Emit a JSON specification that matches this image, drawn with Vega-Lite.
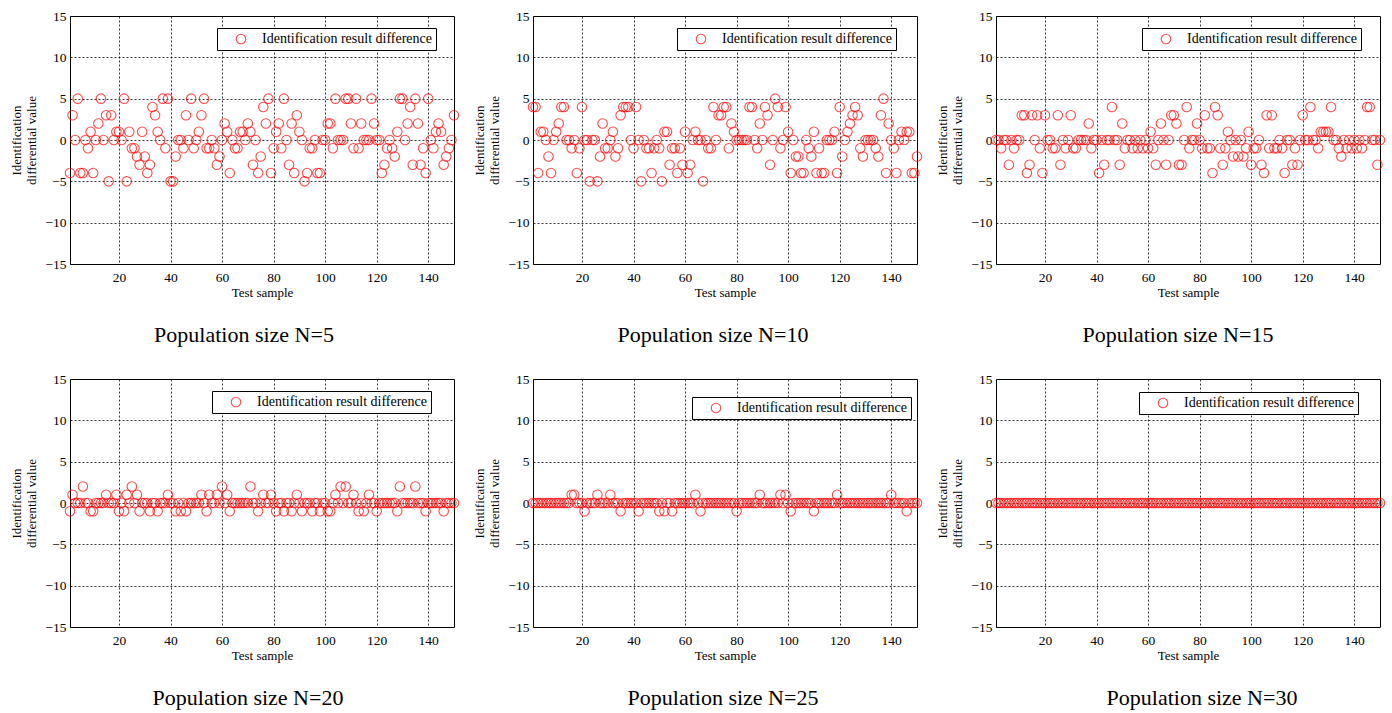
{
"$schema": "https://vega.github.io/schema/vega-lite/v6.json",
"padding": {"left": 10, "top": 8, "right": 5, "bottom": 5},
"background": "white",
"datasets": {
"p1": [{"s":1,"v":-4},{"s":2,"v":3},{"s":3,"v":0},{"s":4,"v":5},{"s":5,"v":-4},{"s":6,"v":-4},{"s":7,"v":0},{"s":8,"v":-1},{"s":9,"v":1},{"s":10,"v":-4},
{"s":11,"v":0},{"s":12,"v":2},{"s":13,"v":5},{"s":14,"v":0},{"s":15,"v":3},{"s":16,"v":-5},{"s":17,"v":3},{"s":18,"v":0},{"s":19,"v":1},{"s":20,"v":1},
{"s":21,"v":0},{"s":22,"v":5},{"s":23,"v":-5},{"s":24,"v":1},{"s":25,"v":-1},{"s":26,"v":-1},{"s":27,"v":-2},{"s":28,"v":-3},{"s":29,"v":1},{"s":30,"v":-2},
{"s":31,"v":-4},{"s":32,"v":-3},{"s":33,"v":4},{"s":34,"v":3},{"s":35,"v":1},{"s":36,"v":0},{"s":37,"v":5},{"s":38,"v":-1},{"s":39,"v":5},{"s":40,"v":-5},
{"s":41,"v":-5},{"s":42,"v":-2},{"s":43,"v":0},{"s":44,"v":0},{"s":45,"v":-1},{"s":46,"v":3},{"s":47,"v":0},{"s":48,"v":5},{"s":49,"v":-1},{"s":50,"v":0},
{"s":51,"v":1},{"s":52,"v":3},{"s":53,"v":5},{"s":54,"v":-1},{"s":55,"v":-1},{"s":56,"v":0},{"s":57,"v":-1},{"s":58,"v":-3},{"s":59,"v":-2},{"s":60,"v":0},
{"s":61,"v":2},{"s":62,"v":1},{"s":63,"v":-4},{"s":64,"v":0},{"s":65,"v":-1},{"s":66,"v":-1},{"s":67,"v":1},{"s":68,"v":1},{"s":69,"v":0},{"s":70,"v":2},
{"s":71,"v":1},{"s":72,"v":-3},{"s":73,"v":0},{"s":74,"v":-4},{"s":75,"v":-2},{"s":76,"v":4},{"s":77,"v":2},{"s":78,"v":5},{"s":79,"v":-4},{"s":80,"v":-1},
{"s":81,"v":1},{"s":82,"v":2},{"s":83,"v":-1},{"s":84,"v":5},{"s":85,"v":0},{"s":86,"v":-3},{"s":87,"v":2},{"s":88,"v":-4},{"s":89,"v":3},{"s":90,"v":1},
{"s":91,"v":0},{"s":92,"v":-5},{"s":93,"v":-4},{"s":94,"v":-1},{"s":95,"v":-1},{"s":96,"v":0},{"s":97,"v":-4},{"s":98,"v":-4},{"s":99,"v":0},{"s":100,"v":0},
{"s":101,"v":2},{"s":102,"v":2},{"s":103,"v":-1},{"s":104,"v":5},{"s":105,"v":0},{"s":106,"v":0},{"s":107,"v":0},{"s":108,"v":5},{"s":109,"v":5},{"s":110,"v":2},
{"s":111,"v":-1},{"s":112,"v":5},{"s":113,"v":-1},{"s":114,"v":2},{"s":115,"v":0},{"s":116,"v":0},{"s":117,"v":0},{"s":118,"v":5},{"s":119,"v":2},{"s":120,"v":0},
{"s":121,"v":0},{"s":122,"v":-4},{"s":123,"v":-3},{"s":124,"v":-1},{"s":125,"v":0},{"s":126,"v":-1},{"s":127,"v":-2},{"s":128,"v":1},{"s":129,"v":5},{"s":130,"v":5},
{"s":131,"v":0},{"s":132,"v":2},{"s":133,"v":4},{"s":134,"v":-3},{"s":135,"v":5},{"s":136,"v":2},{"s":137,"v":-3},{"s":138,"v":-1},{"s":139,"v":-4},{"s":140,"v":5},
{"s":141,"v":0},{"s":142,"v":-1},{"s":143,"v":1},{"s":144,"v":2},{"s":145,"v":1},{"s":146,"v":-3},{"s":147,"v":-2},{"s":148,"v":-1},{"s":149,"v":0},{"s":150,"v":3}],
"p2": [{"s":1,"v":4},{"s":2,"v":4},{"s":3,"v":-4},{"s":4,"v":1},{"s":5,"v":1},{"s":6,"v":0},{"s":7,"v":-2},{"s":8,"v":-4},{"s":9,"v":0},{"s":10,"v":1},
{"s":11,"v":2},{"s":12,"v":4},{"s":13,"v":4},{"s":14,"v":0},{"s":15,"v":0},{"s":16,"v":-1},{"s":17,"v":0},{"s":18,"v":-4},{"s":19,"v":-1},{"s":20,"v":4},
{"s":21,"v":0},{"s":22,"v":0},{"s":23,"v":-5},{"s":24,"v":0},{"s":25,"v":0},{"s":26,"v":-5},{"s":27,"v":-2},{"s":28,"v":2},{"s":29,"v":-1},{"s":30,"v":-1},
{"s":31,"v":0},{"s":32,"v":1},{"s":33,"v":-2},{"s":34,"v":-1},{"s":35,"v":3},{"s":36,"v":4},{"s":37,"v":4},{"s":38,"v":4},{"s":39,"v":0},{"s":40,"v":-1},
{"s":41,"v":4},{"s":42,"v":0},{"s":43,"v":-5},{"s":44,"v":0},{"s":45,"v":-1},{"s":46,"v":-1},{"s":47,"v":-4},{"s":48,"v":-1},{"s":49,"v":0},{"s":50,"v":-1},
{"s":51,"v":-5},{"s":52,"v":1},{"s":53,"v":1},{"s":54,"v":-3},{"s":55,"v":-1},{"s":56,"v":-1},{"s":57,"v":-4},{"s":58,"v":-1},{"s":59,"v":-3},{"s":60,"v":1},
{"s":61,"v":-4},{"s":62,"v":-3},{"s":63,"v":0},{"s":64,"v":1},{"s":65,"v":0},{"s":66,"v":0},{"s":67,"v":-5},{"s":68,"v":0},{"s":69,"v":-1},{"s":70,"v":-1},
{"s":71,"v":4},{"s":72,"v":0},{"s":73,"v":3},{"s":74,"v":3},{"s":75,"v":4},{"s":76,"v":4},{"s":77,"v":-1},{"s":78,"v":2},{"s":79,"v":1},{"s":80,"v":0},
{"s":81,"v":0},{"s":82,"v":0},{"s":83,"v":0},{"s":84,"v":0},{"s":85,"v":4},{"s":86,"v":4},{"s":87,"v":0},{"s":88,"v":-1},{"s":89,"v":2},{"s":90,"v":0},
{"s":91,"v":4},{"s":92,"v":3},{"s":93,"v":-3},{"s":94,"v":0},{"s":95,"v":5},{"s":96,"v":4},{"s":97,"v":-1},{"s":98,"v":0},{"s":99,"v":4},{"s":100,"v":1},
{"s":101,"v":-4},{"s":102,"v":0},{"s":103,"v":-2},{"s":104,"v":-2},{"s":105,"v":-4},{"s":106,"v":-4},{"s":107,"v":0},{"s":108,"v":-1},{"s":109,"v":-2},{"s":110,"v":1},
{"s":111,"v":-4},{"s":112,"v":-1},{"s":113,"v":-4},{"s":114,"v":-4},{"s":115,"v":0},{"s":116,"v":0},{"s":117,"v":0},{"s":118,"v":1},{"s":119,"v":-4},{"s":120,"v":4},
{"s":121,"v":-2},{"s":122,"v":0},{"s":123,"v":1},{"s":124,"v":2},{"s":125,"v":3},{"s":126,"v":4},{"s":127,"v":3},{"s":128,"v":-1},{"s":129,"v":-2},{"s":130,"v":0},
{"s":131,"v":0},{"s":132,"v":0},{"s":133,"v":0},{"s":134,"v":-1},{"s":135,"v":-2},{"s":136,"v":3},{"s":137,"v":5},{"s":138,"v":-4},{"s":139,"v":2},{"s":140,"v":0},
{"s":141,"v":-1},{"s":142,"v":-4},{"s":143,"v":0},{"s":144,"v":1},{"s":145,"v":0},{"s":146,"v":1},{"s":147,"v":1},{"s":148,"v":-4},{"s":149,"v":-4},{"s":150,"v":-2}],
"p3": [{"s":1,"v":0},{"s":2,"v":0},{"s":3,"v":-1},{"s":4,"v":0},{"s":5,"v":0},{"s":6,"v":-3},{"s":7,"v":0},{"s":8,"v":-1},{"s":9,"v":0},{"s":10,"v":0},
{"s":11,"v":3},{"s":12,"v":3},{"s":13,"v":-4},{"s":14,"v":-3},{"s":15,"v":3},{"s":16,"v":0},{"s":17,"v":3},{"s":18,"v":-1},{"s":19,"v":-4},{"s":20,"v":3},
{"s":21,"v":0},{"s":22,"v":0},{"s":23,"v":-1},{"s":24,"v":-1},{"s":25,"v":3},{"s":26,"v":-3},{"s":27,"v":0},{"s":28,"v":-1},{"s":29,"v":0},{"s":30,"v":3},
{"s":31,"v":-1},{"s":32,"v":-1},{"s":33,"v":0},{"s":34,"v":0},{"s":35,"v":0},{"s":36,"v":0},{"s":37,"v":2},{"s":38,"v":-1},{"s":39,"v":0},{"s":40,"v":0},
{"s":41,"v":-4},{"s":42,"v":0},{"s":43,"v":-3},{"s":44,"v":0},{"s":45,"v":0},{"s":46,"v":4},{"s":47,"v":0},{"s":48,"v":0},{"s":49,"v":-3},{"s":50,"v":2},
{"s":51,"v":-1},{"s":52,"v":0},{"s":53,"v":0},{"s":54,"v":-1},{"s":55,"v":0},{"s":56,"v":-1},{"s":57,"v":0},{"s":58,"v":-1},{"s":59,"v":0},{"s":60,"v":-1},
{"s":61,"v":1},{"s":62,"v":-1},{"s":63,"v":-3},{"s":64,"v":0},{"s":65,"v":2},{"s":66,"v":0},{"s":67,"v":-3},{"s":68,"v":0},{"s":69,"v":3},{"s":70,"v":3},
{"s":71,"v":2},{"s":72,"v":-3},{"s":73,"v":-3},{"s":74,"v":0},{"s":75,"v":4},{"s":76,"v":-1},{"s":77,"v":0},{"s":78,"v":0},{"s":79,"v":2},{"s":80,"v":0},
{"s":81,"v":-1},{"s":82,"v":3},{"s":83,"v":-1},{"s":84,"v":-1},{"s":85,"v":-4},{"s":86,"v":4},{"s":87,"v":3},{"s":88,"v":-1},{"s":89,"v":-3},{"s":90,"v":-1},
{"s":91,"v":1},{"s":92,"v":0},{"s":93,"v":-2},{"s":94,"v":0},{"s":95,"v":-2},{"s":96,"v":0},{"s":97,"v":-2},{"s":98,"v":-1},{"s":99,"v":1},{"s":100,"v":-3},
{"s":101,"v":-1},{"s":102,"v":-1},{"s":103,"v":0},{"s":104,"v":-3},{"s":105,"v":-4},{"s":106,"v":3},{"s":107,"v":-1},{"s":108,"v":3},{"s":109,"v":-1},{"s":110,"v":-1},
{"s":111,"v":0},{"s":112,"v":-1},{"s":113,"v":-4},{"s":114,"v":0},{"s":115,"v":0},{"s":116,"v":-3},{"s":117,"v":-1},{"s":118,"v":-3},{"s":119,"v":0},{"s":120,"v":3},
{"s":121,"v":0},{"s":122,"v":0},{"s":123,"v":4},{"s":124,"v":0},{"s":125,"v":0},{"s":126,"v":-1},{"s":127,"v":1},{"s":128,"v":1},{"s":129,"v":1},{"s":130,"v":1},
{"s":131,"v":4},{"s":132,"v":0},{"s":133,"v":0},{"s":134,"v":-1},{"s":135,"v":-2},{"s":136,"v":0},{"s":137,"v":-1},{"s":138,"v":0},{"s":139,"v":-1},{"s":140,"v":0},
{"s":141,"v":-1},{"s":142,"v":0},{"s":143,"v":-1},{"s":144,"v":0},{"s":145,"v":4},{"s":146,"v":4},{"s":147,"v":0},{"s":148,"v":0},{"s":149,"v":-3},{"s":150,"v":0}],
"p4": [{"s":1,"v":-1},{"s":2,"v":1},{"s":3,"v":0},{"s":4,"v":0},{"s":5,"v":0},{"s":6,"v":2},{"s":7,"v":0},{"s":8,"v":0},{"s":9,"v":-1},{"s":10,"v":-1},
{"s":11,"v":0},{"s":12,"v":0},{"s":13,"v":0},{"s":14,"v":0},{"s":15,"v":1},{"s":16,"v":0},{"s":17,"v":0},{"s":18,"v":0},{"s":19,"v":1},{"s":20,"v":-1},
{"s":21,"v":0},{"s":22,"v":-1},{"s":23,"v":1},{"s":24,"v":0},{"s":25,"v":2},{"s":26,"v":0},{"s":27,"v":1},{"s":28,"v":-1},{"s":29,"v":0},{"s":30,"v":0},
{"s":31,"v":0},{"s":32,"v":-1},{"s":33,"v":0},{"s":34,"v":0},{"s":35,"v":-1},{"s":36,"v":0},{"s":37,"v":0},{"s":38,"v":0},{"s":39,"v":1},{"s":40,"v":0},
{"s":41,"v":0},{"s":42,"v":-1},{"s":43,"v":0},{"s":44,"v":-1},{"s":45,"v":0},{"s":46,"v":-1},{"s":47,"v":0},{"s":48,"v":0},{"s":49,"v":0},{"s":50,"v":0},
{"s":51,"v":0},{"s":52,"v":1},{"s":53,"v":0},{"s":54,"v":-1},{"s":55,"v":1},{"s":56,"v":0},{"s":57,"v":0},{"s":58,"v":1},{"s":59,"v":0},{"s":60,"v":2},
{"s":61,"v":0},{"s":62,"v":1},{"s":63,"v":-1},{"s":64,"v":0},{"s":65,"v":0},{"s":66,"v":0},{"s":67,"v":0},{"s":68,"v":0},{"s":69,"v":0},{"s":70,"v":0},
{"s":71,"v":2},{"s":72,"v":0},{"s":73,"v":0},{"s":74,"v":-1},{"s":75,"v":0},{"s":76,"v":1},{"s":77,"v":0},{"s":78,"v":0},{"s":79,"v":1},{"s":80,"v":0},
{"s":81,"v":-1},{"s":82,"v":0},{"s":83,"v":0},{"s":84,"v":-1},{"s":85,"v":0},{"s":86,"v":0},{"s":87,"v":-1},{"s":88,"v":0},{"s":89,"v":1},{"s":90,"v":0},
{"s":91,"v":-1},{"s":92,"v":0},{"s":93,"v":0},{"s":94,"v":0},{"s":95,"v":-1},{"s":96,"v":0},{"s":97,"v":0},{"s":98,"v":-1},{"s":99,"v":0},{"s":100,"v":0},
{"s":101,"v":-1},{"s":102,"v":-1},{"s":103,"v":0},{"s":104,"v":1},{"s":105,"v":0},{"s":106,"v":2},{"s":107,"v":0},{"s":108,"v":2},{"s":109,"v":0},{"s":110,"v":0},
{"s":111,"v":1},{"s":112,"v":0},{"s":113,"v":-1},{"s":114,"v":0},{"s":115,"v":-1},{"s":116,"v":0},{"s":117,"v":1},{"s":118,"v":0},{"s":119,"v":0},{"s":120,"v":-1},
{"s":121,"v":0},{"s":122,"v":0},{"s":123,"v":0},{"s":124,"v":0},{"s":125,"v":0},{"s":126,"v":0},{"s":127,"v":0},{"s":128,"v":-1},{"s":129,"v":2},{"s":130,"v":0},
{"s":131,"v":0},{"s":132,"v":0},{"s":133,"v":0},{"s":134,"v":0},{"s":135,"v":2},{"s":136,"v":0},{"s":137,"v":0},{"s":138,"v":0},{"s":139,"v":-1},{"s":140,"v":0},
{"s":141,"v":0},{"s":142,"v":0},{"s":143,"v":0},{"s":144,"v":0},{"s":145,"v":0},{"s":146,"v":-1},{"s":147,"v":0},{"s":148,"v":0},{"s":149,"v":0},{"s":150,"v":0}],
"p5": [{"s":1,"v":0},{"s":2,"v":0},{"s":3,"v":0},{"s":4,"v":0},{"s":5,"v":0},{"s":6,"v":0},{"s":7,"v":0},{"s":8,"v":0},{"s":9,"v":0},{"s":10,"v":0},
{"s":11,"v":0},{"s":12,"v":0},{"s":13,"v":0},{"s":14,"v":0},{"s":15,"v":0},{"s":16,"v":1},{"s":17,"v":1},{"s":18,"v":0},{"s":19,"v":0},{"s":20,"v":0},
{"s":21,"v":-1},{"s":22,"v":0},{"s":23,"v":0},{"s":24,"v":0},{"s":25,"v":0},{"s":26,"v":1},{"s":27,"v":0},{"s":28,"v":0},{"s":29,"v":0},{"s":30,"v":0},
{"s":31,"v":1},{"s":32,"v":0},{"s":33,"v":0},{"s":34,"v":0},{"s":35,"v":-1},{"s":36,"v":0},{"s":37,"v":0},{"s":38,"v":0},{"s":39,"v":0},{"s":40,"v":0},
{"s":41,"v":0},{"s":42,"v":-1},{"s":43,"v":0},{"s":44,"v":0},{"s":45,"v":0},{"s":46,"v":0},{"s":47,"v":0},{"s":48,"v":0},{"s":49,"v":0},{"s":50,"v":-1},
{"s":51,"v":0},{"s":52,"v":-1},{"s":53,"v":0},{"s":54,"v":0},{"s":55,"v":-1},{"s":56,"v":0},{"s":57,"v":0},{"s":58,"v":0},{"s":59,"v":0},{"s":60,"v":0},
{"s":61,"v":0},{"s":62,"v":0},{"s":63,"v":0},{"s":64,"v":1},{"s":65,"v":0},{"s":66,"v":-1},{"s":67,"v":0},{"s":68,"v":0},{"s":69,"v":0},{"s":70,"v":0},
{"s":71,"v":0},{"s":72,"v":0},{"s":73,"v":0},{"s":74,"v":0},{"s":75,"v":0},{"s":76,"v":0},{"s":77,"v":0},{"s":78,"v":0},{"s":79,"v":0},{"s":80,"v":-1},
{"s":81,"v":0},{"s":82,"v":0},{"s":83,"v":0},{"s":84,"v":0},{"s":85,"v":0},{"s":86,"v":0},{"s":87,"v":0},{"s":88,"v":0},{"s":89,"v":1},{"s":90,"v":0},
{"s":91,"v":0},{"s":92,"v":0},{"s":93,"v":0},{"s":94,"v":0},{"s":95,"v":0},{"s":96,"v":0},{"s":97,"v":1},{"s":98,"v":0},{"s":99,"v":1},{"s":100,"v":0},
{"s":101,"v":-1},{"s":102,"v":0},{"s":103,"v":0},{"s":104,"v":0},{"s":105,"v":0},{"s":106,"v":0},{"s":107,"v":0},{"s":108,"v":0},{"s":109,"v":0},{"s":110,"v":-1},
{"s":111,"v":0},{"s":112,"v":0},{"s":113,"v":0},{"s":114,"v":0},{"s":115,"v":0},{"s":116,"v":0},{"s":117,"v":0},{"s":118,"v":0},{"s":119,"v":1},{"s":120,"v":0},
{"s":121,"v":0},{"s":122,"v":0},{"s":123,"v":0},{"s":124,"v":0},{"s":125,"v":0},{"s":126,"v":0},{"s":127,"v":0},{"s":128,"v":0},{"s":129,"v":0},{"s":130,"v":0},
{"s":131,"v":0},{"s":132,"v":0},{"s":133,"v":0},{"s":134,"v":0},{"s":135,"v":0},{"s":136,"v":0},{"s":137,"v":0},{"s":138,"v":0},{"s":139,"v":0},{"s":140,"v":1},
{"s":141,"v":0},{"s":142,"v":0},{"s":143,"v":0},{"s":144,"v":0},{"s":145,"v":0},{"s":146,"v":-1},{"s":147,"v":0},{"s":148,"v":0},{"s":149,"v":0},{"s":150,"v":0}],
"p6": [{"s":1,"v":0},{"s":2,"v":0},{"s":3,"v":0},{"s":4,"v":0},{"s":5,"v":0},{"s":6,"v":0},{"s":7,"v":0},{"s":8,"v":0},{"s":9,"v":0},{"s":10,"v":0},
{"s":11,"v":0},{"s":12,"v":0},{"s":13,"v":0},{"s":14,"v":0},{"s":15,"v":0},{"s":16,"v":0},{"s":17,"v":0},{"s":18,"v":0},{"s":19,"v":0},{"s":20,"v":0},
{"s":21,"v":0},{"s":22,"v":0},{"s":23,"v":0},{"s":24,"v":0},{"s":25,"v":0},{"s":26,"v":0},{"s":27,"v":0},{"s":28,"v":0},{"s":29,"v":0},{"s":30,"v":0},
{"s":31,"v":0},{"s":32,"v":0},{"s":33,"v":0},{"s":34,"v":0},{"s":35,"v":0},{"s":36,"v":0},{"s":37,"v":0},{"s":38,"v":0},{"s":39,"v":0},{"s":40,"v":0},
{"s":41,"v":0},{"s":42,"v":0},{"s":43,"v":0},{"s":44,"v":0},{"s":45,"v":0},{"s":46,"v":0},{"s":47,"v":0},{"s":48,"v":0},{"s":49,"v":0},{"s":50,"v":0},
{"s":51,"v":0},{"s":52,"v":0},{"s":53,"v":0},{"s":54,"v":0},{"s":55,"v":0},{"s":56,"v":0},{"s":57,"v":0},{"s":58,"v":0},{"s":59,"v":0},{"s":60,"v":0},
{"s":61,"v":0},{"s":62,"v":0},{"s":63,"v":0},{"s":64,"v":0},{"s":65,"v":0},{"s":66,"v":0},{"s":67,"v":0},{"s":68,"v":0},{"s":69,"v":0},{"s":70,"v":0},
{"s":71,"v":0},{"s":72,"v":0},{"s":73,"v":0},{"s":74,"v":0},{"s":75,"v":0},{"s":76,"v":0},{"s":77,"v":0},{"s":78,"v":0},{"s":79,"v":0},{"s":80,"v":0},
{"s":81,"v":0},{"s":82,"v":0},{"s":83,"v":0},{"s":84,"v":0},{"s":85,"v":0},{"s":86,"v":0},{"s":87,"v":0},{"s":88,"v":0},{"s":89,"v":0},{"s":90,"v":0},
{"s":91,"v":0},{"s":92,"v":0},{"s":93,"v":0},{"s":94,"v":0},{"s":95,"v":0},{"s":96,"v":0},{"s":97,"v":0},{"s":98,"v":0},{"s":99,"v":0},{"s":100,"v":0},
{"s":101,"v":0},{"s":102,"v":0},{"s":103,"v":0},{"s":104,"v":0},{"s":105,"v":0},{"s":106,"v":0},{"s":107,"v":0},{"s":108,"v":0},{"s":109,"v":0},{"s":110,"v":0},
{"s":111,"v":0},{"s":112,"v":0},{"s":113,"v":0},{"s":114,"v":0},{"s":115,"v":0},{"s":116,"v":0},{"s":117,"v":0},{"s":118,"v":0},{"s":119,"v":0},{"s":120,"v":0},
{"s":121,"v":0},{"s":122,"v":0},{"s":123,"v":0},{"s":124,"v":0},{"s":125,"v":0},{"s":126,"v":0},{"s":127,"v":0},{"s":128,"v":0},{"s":129,"v":0},{"s":130,"v":0},
{"s":131,"v":0},{"s":132,"v":0},{"s":133,"v":0},{"s":134,"v":0},{"s":135,"v":0},{"s":136,"v":0},{"s":137,"v":0},{"s":138,"v":0},{"s":139,"v":0},{"s":140,"v":0},
{"s":141,"v":0},{"s":142,"v":0},{"s":143,"v":0},{"s":144,"v":0},{"s":145,"v":0},{"s":146,"v":0},{"s":147,"v":0},{"s":148,"v":0},{"s":149,"v":0},{"s":150,"v":0}]
},
"columns": 3,
"spacing": {"row": 115, "column": 79},
"bounds": "flush",
"resolve": {"scale": {"color": "independent"}, "legend": {"color": "independent"}},
"concat": [
{"width": 384, "height": 248, "title": {"text": "Population size N=5", "dx": -18}, "data": {"name": "p1"},
 "mark": {"type": "point", "filled": false, "size": 90, "strokeWidth": 1.1},
 "encoding": {"x": {"field": "s", "type": "quantitative", "scale": {"domain": [1, 150], "nice": false, "zero": false}, "axis": {"values": [20, 40, 60, 80, 100, 120, 140], "title": "Test sample"}},
  "y": {"field": "v", "type": "quantitative", "scale": {"domain": [-15, 15], "nice": false}, "axis": {"values": [-15, -10, -5, 0, 5, 10, 15], "title": ["Identification", "differential value"]}},
  "color": {"datum": "Identification result difference", "scale": {"range": ["#ff0000"]}, "legend": {"title": null, "orient": "none", "legendX": 147, "legendY": 12}}}},
{"width": 384, "height": 248, "title": {"text": "Population size N=10", "dx": -12}, "data": {"name": "p2"},
 "mark": {"type": "point", "filled": false, "size": 90, "strokeWidth": 1.1},
 "encoding": {"x": {"field": "s", "type": "quantitative", "scale": {"domain": [1, 150], "nice": false, "zero": false}, "axis": {"values": [20, 40, 60, 80, 100, 120, 140], "title": "Test sample"}},
  "y": {"field": "v", "type": "quantitative", "scale": {"domain": [-15, 15], "nice": false}, "axis": {"values": [-15, -10, -5, 0, 5, 10, 15], "title": ["Identification", "differential value"]}},
  "color": {"datum": "Identification result difference", "scale": {"range": ["#ff0000"]}, "legend": {"title": null, "orient": "none", "legendX": 144, "legendY": 12}}}},
{"width": 384, "height": 248, "title": {"text": "Population size N=15", "dx": -10}, "data": {"name": "p3"},
 "mark": {"type": "point", "filled": false, "size": 90, "strokeWidth": 1.1},
 "encoding": {"x": {"field": "s", "type": "quantitative", "scale": {"domain": [1, 150], "nice": false, "zero": false}, "axis": {"values": [20, 40, 60, 80, 100, 120, 140], "title": "Test sample"}},
  "y": {"field": "v", "type": "quantitative", "scale": {"domain": [-15, 15], "nice": false}, "axis": {"values": [-15, -10, -5, 0, 5, 10, 15], "title": ["Identification", "differential value"]}},
  "color": {"datum": "Identification result difference", "scale": {"range": ["#ff0000"]}, "legend": {"title": null, "orient": "none", "legendX": 146, "legendY": 12}}}},
{"width": 384, "height": 248, "title": {"text": "Population size N=20", "dx": -14}, "data": {"name": "p4"},
 "mark": {"type": "point", "filled": false, "size": 90, "strokeWidth": 1.1},
 "encoding": {"x": {"field": "s", "type": "quantitative", "scale": {"domain": [1, 150], "nice": false, "zero": false}, "axis": {"values": [20, 40, 60, 80, 100, 120, 140], "title": "Test sample"}},
  "y": {"field": "v", "type": "quantitative", "scale": {"domain": [-15, 15], "nice": false}, "axis": {"values": [-15, -10, -5, 0, 5, 10, 15], "title": ["Identification", "differential value"]}},
  "color": {"datum": "Identification result difference", "scale": {"range": ["#ff0000"]}, "legend": {"title": null, "orient": "none", "legendX": 142, "legendY": 12}}}},
{"width": 384, "height": 248, "title": {"text": "Population size N=25", "dx": -2}, "data": {"name": "p5"},
 "mark": {"type": "point", "filled": false, "size": 90, "strokeWidth": 1.1},
 "encoding": {"x": {"field": "s", "type": "quantitative", "scale": {"domain": [1, 150], "nice": false, "zero": false}, "axis": {"values": [20, 40, 60, 80, 100, 120, 140], "title": "Test sample"}},
  "y": {"field": "v", "type": "quantitative", "scale": {"domain": [-15, 15], "nice": false}, "axis": {"values": [-15, -10, -5, 0, 5, 10, 15], "title": ["Identification", "differential value"]}},
  "color": {"datum": "Identification result difference", "scale": {"range": ["#ff0000"]}, "legend": {"title": null, "orient": "none", "legendX": 159, "legendY": 18}}}},
{"width": 384, "height": 248, "title": {"text": "Population size N=30", "dx": 14}, "data": {"name": "p6"},
 "mark": {"type": "point", "filled": false, "size": 90, "strokeWidth": 1.1},
 "encoding": {"x": {"field": "s", "type": "quantitative", "scale": {"domain": [1, 150], "nice": false, "zero": false}, "axis": {"values": [20, 40, 60, 80, 100, 120, 140], "title": "Test sample"}},
  "y": {"field": "v", "type": "quantitative", "scale": {"domain": [-15, 15], "nice": false}, "axis": {"values": [-15, -10, -5, 0, 5, 10, 15], "title": ["Identification", "differential value"]}},
  "color": {"datum": "Identification result difference", "scale": {"range": ["#ff0000"]}, "legend": {"title": null, "orient": "none", "legendX": 143, "legendY": 13}}}}
],
"config": {
 "font": "Liberation Serif",
 "view": {"stroke": "black", "strokeWidth": 1},
 "axis": {"grid": true, "gridColor": "black", "gridDash": [2, 2], "gridOpacity": 1, "gridWidth": 0.8, "domain": false, "ticks": false, "labelFontSize": 13.5, "labelColor": "black", "labelPadding": 4, "titleFontSize": 13, "titleFontWeight": "normal", "titleColor": "black", "labelFont": "Liberation Serif", "titleFont": "Liberation Serif"},
 "axisX": {"titlePadding": 3, "labelPadding": 6},
 "axisY": {"titlePadding": 6, "titleLineHeight": 15},
 "title": {"fontSize": 22, "fontWeight": "normal", "color": "black", "orient": "bottom", "offset": 25, "font": "Liberation Serif"},
 "legend": {"strokeColor": "black", "fillColor": "white", "padding": 4, "labelFontSize": 14, "labelLimit": 400, "labelColor": "black", "labelFont": "Liberation Serif", "symbolType": "circle", "symbolSize": 90, "symbolStrokeWidth": 1.1, "symbolOffset": 13, "labelOffset": 14, "cornerRadius": 0}
}
}
